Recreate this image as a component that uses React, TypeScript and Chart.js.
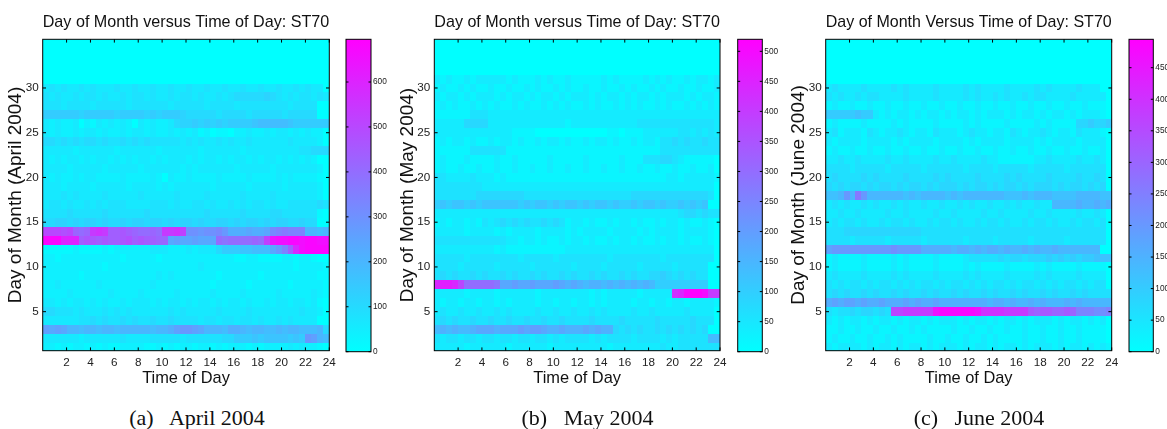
import React, { useEffect, useRef } from "react";
import { Chart, registerables } from "chart.js";

Chart.register(...registerables);

// ---------------- DATA ----------------
// Each row string = one day (day 1 first); 48 half-hour columns covering 0..24 h,
// written in 12 groups of 4. Each character is a base-36 level; value = level * valueUnit.
const valueUnit = 20;
const hoursPerColumn = 0.5;

const hourTicks = [2, 4, 6, 8, 10, 12, 14, 16, 18, 20, 22, 24];
const dayTicks = [5, 10, 15, 20, 25, 30];

const aprilColorTicks = [0, 100, 200, 300, 400, 500, 600];
const mayColorTicks = [0, 50, 100, 150, 200, 250, 300, 350, 400, 450, 500];
const juneColorTicks = [0, 50, 100, 150, 200, 250, 300, 350, 400, 450];

const aprilMax = 695;
const mayMax = 520;
const juneMax = 495;

const aprilRows = [
  "2212 1221 2121 1222 2112 1212 2122 1212 2212 1222 2323 2210",
  "3333 3323 3333 3433 3344 4443 4444 4455 7778 7888 8787 eda9",
  "dcdc aa9a a9aa 9aaa aa9a abde edca aa9b ba9a a99a 9aa9 99a5",
  "3333 3344 5454 4545 4454 4544 4434 4344 3443 4334 3433 3300",
  "5544 4343 3343 4343 3333 3434 3333 3433 3343 3333 3334 3320",
  "3323 2332 3232 2323 3323 2332 3233 2323 3232 2323 3233 2310",
  "2222 3222 2223 2222 3222 2232 2222 3222 2322 2223 2222 2321",
  "2232 2222 2322 2222 2232 2222 2222 1222 2212 2222 2122 2221",
  "2222 2212 2222 2222 2223 2322 2222 2122 2222 1222 2222 2211",
  "2222 2222 2212 2222 2222 2222 2232 2222 2222 2222 2212 2221",
  "2212 2222 2222 2122 2221 2222 2222 2222 1122 1111 2212 2100",
  "1111 1211 1121 2222 2233 3222 3233 3577 7889 99ce hmtx yyyy",
  "yyyu uumn nmnm mnom nmml lcdc cdcc ckjk kkkl kqwx xyyx yyxx",
  "pppo plkl rsrm mnml kklk rrsq ffef fgeb bbcb bcgh ihhh aa9a",
  "5566 5656 6565 5656 6566 5656 6565 5665 6566 5656 6556 5500",
  "4444 5444 4454 4444 4544 4444 4445 4444 4544 4455 4444 4410",
  "3443 4334 3434 4433 3344 4343 3443 4334 3434 4343 3444 4454",
  "3334 3433 3343 3333 4333 3343 3334 3333 3433 3343 3333 3320",
  "3332 3333 2333 3323 3332 3233 3333 2333 3323 3333 2333 3320",
  "3232 2323 3222 2322 2232 0322 3222 2322 2232 2223 2322 2210",
  "3333 2333 3323 3333 2333 3332 3233 3333 2333 3323 3333 3320",
  "3232 3323 2332 3232 3323 2333 2323 3232 3323 2332 3232 3200",
  "3333 3233 3333 2333 3332 3333 3323 3333 3233 3333 3334 4555",
  "5545 4545 5454 4545 4544 4443 4343 3434 3343 3333 3433 3320",
  "3232 2323 3232 2323 3232 2323 2312 0110 2232 2323 3232 3220",
  "3232 2302 1323 2320 3232 2356 6767 6767 7778 9999 9877 7777",
  "7777 7767 7777 6777 7676 7776 5555 5455 5545 5555 4555 5500",
  "4443 4444 3444 4434 4444 4344 4443 4444 3444 4444 4344 4400",
  "4343 3434 4343 3434 4343 3434 4343 3434 5555 5654 3434 4343",
  "3434 3343 4333 4334 3343 3433 4334 3343 3433 4334 3343 4330",
];

const mayRows = [
  "2222 2122 2222 1222 2221 2222 2222 2122 2222 2232 2333 3333",
  "3233 2332 3323 3233 2332 3233 3323 2333 3233 3323 2333 3377",
  "7878 7789 9989 99a9 aa98 8988 8989 8843 4343 3434 3434 3400",
  "3434 3343 3433 4334 3343 3433 3343 3334 3333 3433 3334 3330",
  "2322 3223 2232 3222 2322 3223 2232 3222 2322 3222 2232 2220",
  "2122 1221 2212 1222 2122 1221 2212 1222 2122 1221 2212 2221",
  "2222 2122 2212 2222 2122 2222 2212 1222 2212 2222 lmpq qpkk",
  "mnnm jfff ffe9 9a99 a999 a989 8788 7878 7878 7555 5555 5500",
  "3434 3343 4334 3433 4343 3434 3343 4334 3433 4454 3434 3300",
  "3333 2333 3323 3333 2333 3332 3333 2333 3323 3333 2333 3300",
  "3333 3233 3333 3323 3333 2333 3333 3233 3333 3323 3333 3330",
  "2222 2222 2212 1111 1111 1122 2222 2222 2222 2222 2222 2220",
  "3333 3333 3333 2212 2121 1212 2121 1212 2121 1212 2121 1210",
  "2222 2122 2212 1222 2122 2212 1222 2122 2212 1222 2122 2210",
  "1212 2121 3234 3434 3343 4312 2121 1212 2121 1212 2121 1210",
  "2222 2222 2222 2222 2222 2222 2222 2222 2222 2222 2344 3433",
  "5656 6565 6666 6656 5665 6566 5656 6565 5656 6565 5656 5600",
  "3333 3334 4444 4443 3333 3333 3333 3333 3444 4444 4444 4430",
  "3333 3333 2222 2222 2222 2222 2222 2222 2222 2222 2222 2220",
  "3322 2232 2212 1111 1111 1111 1111 1111 1111 1112 2122 2221",
  "1211 2112 1121 1211 2112 1121 1211 2112 1121 1211 2112 1120",
  "1211 1211 1121 1211 1112 1111 1211 1112 1113 3344 3211 1110",
  "1111 1133 3333 1111 1111 1111 1111 1111 1111 1133 3333 3333",
  "1212 2121 1212 2121 1212 2121 1212 2121 1212 2133 4343 3433",
  "2222 2222 2222 2111 1000 0000 0000 0110 1112 2222 2332 3232",
  "2222 2444 4222 2222 2222 2212 2222 2222 2233 3333 3333 3332",
  "1111 1133 3222 2222 2222 2222 2222 2222 2222 2222 2222 2222",
  "1212 1121 2121 1212 1121 2121 1212 1121 2121 1212 1121 2121",
  "2122 1212 2212 1221 2122 1212 2212 1221 2122 1212 2212 1221",
  "1211 2121 1211 2112 1211 2121 1211 2112 1211 2121 1211 2112",
  "2121 1212 2222 1211 1212 1121 1111 2121 1112 1212 1121 2212",
];

const juneRows = [
  "2122 2212 1221 2122 1212 2212 1221 2122 1212 2212 1221 2121",
  "1211 2112 1121 2111 1211 2112 1121 2111 1211 2112 1121 1110",
  "1121 1211 2112 1121 2111 1211 2112 1121 1211 2112 1121 1110",
  "2121 2212 1221 2122 1212 2212 1221 2122 1212 2212 1221 2120",
  "3233 4344 343i ijjj jjno oooo onkk kkjj jjgf ggff gfcc cbbc",
  "8989 9898 8988 8989 8898 8888 8887 8878 7787 8777 8787 7777",
  "3434 3343 4334 3433 4343 3434 3343 4334 3433 4343 3434 3333",
  "3232 3323 2332 3232 3323 2332 3232 3323 2332 3232 3323 2330",
  "2322 2232 2223 2322 2232 2223 2322 2232 2223 2322 2232 2220",
  "1211 1121 1112 1211 1121 1112 1211 1121 1112 1211 1121 1110",
  "1211 1121 1112 1211 1121 1112 3333 3434 4344 4545 4545 5666",
  "9aaa aaaa aaab aaaa 8888 8788 7878 8787 7878 7787 7777 7700",
  "3333 2333 3323 3333 2333 3332 3333 2333 3323 3333 2333 3330",
  "3334 4444 4444 4444 3333 3333 3333 3333 3333 3333 3333 3330",
  "2323 3232 2323 3232 2323 3232 2323 3232 2323 3232 2323 3230",
  "2232 2322 2232 2322 2232 2322 2232 2322 2232 2322 2232 2320",
  "2323 2232 3223 2322 3223 2232 3223 2232 3223 2277 7787 7878",
  "667a 7da7 7777 7676 7777 6767 7777 7766 6767 7766 6677 7766",
  "4343 4434 3443 4344 3434 4434 3443 4344 3434 4434 3443 4340",
  "3433 3343 4333 3433 3343 4333 3433 3343 4333 3433 3343 3430",
  "3333 2333 3323 3333 2333 3332 3333 2333 3323 3333 2333 3330",
  "2232 2322 2232 2322 2232 2322 2232 2111 1112 2322 2232 2320",
  "1211 2112 1121 1211 2112 1121 1211 2112 1121 1211 2112 1120",
  "2122 2212 2221 2122 2212 2221 2122 2212 2221 2122 2212 2220",
  "2312 2213 2122 3212 2132 2212 3221 2213 2122 3212 2132 2210",
  "1211 1121 1112 1211 1121 1112 1211 1121 1112 1211 1144 5445",
  "5555 5655 2121 2212 1221 2122 1212 2212 1221 2122 1212 2210",
  "1211 2112 1121 1211 2112 1121 1211 2112 1121 1211 2112 1110",
  "3232 2323 3222 2322 2232 2223 2322 3232 2323 3222 2322 2220",
  "2322 2232 2223 2322 2232 2223 2322 2232 2223 2322 2232 2200",
];

const titles = [
  "Day of Month versus Time of Day: ST70",
  "Day of Month versus Time of Day: ST70",
  "Day of Month Versus Time of Day: ST70",
];
const yLabels = ["Day of Month (April 2004)", "Day of Month (May 2004)", "Day of Month (June 2004)"];
const xLabel = "Time of Day";
const captionTags = ["(a)", "(b)", "(c)"];
const captionTexts = ["April 2004", "May 2004", "June 2004"];

// ---------------- LAYOUT / STYLE ----------------
const W_PAGE = 1167;
const H_PAGE = 429;
const PLOT_TOP = 39.3;
const PLOT_BOTTOM = 350.7;
const CB_BOTTOM = 351.7;
const HEAT_H = 392;
const CB_H = 362;
const Y_MIN = 0.64;
const Y_MAX = 35.44;

const SANS = "'Liberation Sans', Arial, Helvetica, sans-serif";
const NARROW = "'Liberation Sans Narrow', 'Arial Narrow', 'Liberation Sans', sans-serif";
const SERIF = "'Liberation Serif', 'Times New Roman', serif";

const TITLE_SIZE = 16.6;
const XLABEL_SIZE = 16.4;
const YLABEL_SIZE = 19;
const TICK_SIZE = 11.7;
const CB_TICK_SIZE = 8.3;

const panelLayouts = [
  { plotLeft: 42.7, plotRight: 329.3, cbLeft: 346, cbRight: 371, captionCenter: 197 },
  { plotLeft: 434.3, plotRight: 720, cbLeft: 737.7, cbRight: 762.3, captionCenter: 587.5 },
  { plotLeft: 825.7, plotRight: 1111.7, cbLeft: 1129, cbRight: 1153.3, captionCenter: 979 },
];

function cool(t: number): string {
  const c = Math.max(0, Math.min(1, t));
  return `rgb(${Math.round(255 * c)},${Math.round(255 * (1 - c))},255)`;
}

function decodeRows(rows: string[]): number[][] {
  return rows.map((r) =>
    r
      .replace(/\s+/g, "")
      .split("")
      .map((ch) => parseInt(ch, 36) * valueUnit)
  );
}

const heatPlugin = {
  id: "heatCells",
  beforeDatasetsDraw(chart: any, _args: any, opts: any) {
    const { ctx, chartArea: a, scales } = chart;
    const xs = scales.x;
    const ys = scales.y;
    const max = opts.max;
    const w = opts.colWidth;
    ctx.save();
    ctx.beginPath();
    ctx.rect(a.left, a.top, a.right - a.left, a.bottom - a.top);
    ctx.clip();
    ctx.fillStyle = cool(0);
    ctx.fillRect(a.left, a.top, a.right - a.left, a.bottom - a.top);
    const data = chart.data.datasets[0].data;
    for (const c of data) {
      const x0 = Math.round(xs.getPixelForValue(c.x - w / 2));
      const x1 = Math.round(xs.getPixelForValue(c.x + w / 2));
      const y0 = Math.round(ys.getPixelForValue(c.y + 0.5));
      const y1 = Math.round(ys.getPixelForValue(c.y - 0.5));
      ctx.fillStyle = cool(c.v / max);
      ctx.fillRect(x0, y0, x1 - x0, y1 - y0);
    }
    ctx.restore();
  },
};

const framePlugin = {
  id: "frameTicks",
  afterDraw(chart: any, _args: any, opts: any) {
    const { ctx, chartArea: a, scales } = chart;
    const len = opts.len || 3;
    ctx.save();
    ctx.strokeStyle = "#000";
    ctx.lineWidth = 1;
    ctx.beginPath();
    (opts.xTicks || []).forEach((v: number) => {
      const px = scales.x.getPixelForValue(v);
      ctx.moveTo(px, a.bottom);
      ctx.lineTo(px, a.bottom - len);
      ctx.moveTo(px, a.top);
      ctx.lineTo(px, a.top + len);
    });
    (opts.yTicks || []).forEach((v: number) => {
      const py = scales.y.getPixelForValue(v);
      ctx.moveTo(a.left, py);
      ctx.lineTo(a.left + len, py);
      ctx.moveTo(a.right, py);
      ctx.lineTo(a.right - len, py);
    });
    ctx.stroke();
    ctx.strokeRect(a.left, a.top, a.right - a.left, a.bottom - a.top);
    ctx.restore();
  },
};

type PanelProps = {
  index: number;
  rows: string[];
  maxValue: number;
  colorTicks: number[];
};

function Panel({ index, rows, maxValue, colorTicks }: PanelProps) {
  const heatRef = useRef<HTMLCanvasElement | null>(null);
  const cbRef = useRef<HTMLCanvasElement | null>(null);
  const L = panelLayouts[index];

  const heatLeft = Math.max(0, Math.round(L.plotLeft) - 43);
  const yAxisW = L.plotLeft - heatLeft;
  const heatW = Math.ceil(L.plotRight - heatLeft + 12);
  const heatPadRight = heatW - (L.plotRight - heatLeft);
  const yTitleLine = YLABEL_SIZE * 1.2;
  const yTitlePad = L.plotLeft - 27 - heatLeft - yTitleLine / 2;

  const cbCanvasLeft = Math.floor(L.cbLeft) - 2;
  const cbPadLeft = L.cbLeft - cbCanvasLeft;
  const cbW = Math.ceil(L.cbRight - cbCanvasLeft + 26);
  const cbAxisW = cbW - (L.cbRight - cbCanvasLeft);

  useEffect(() => {
    const grid = decodeRows(rows);
    const cells: { x: number; y: number; v: number }[] = [];
    grid.forEach((row, di) =>
      row.forEach((v, ci) => cells.push({ x: (ci + 0.5) * hoursPerColumn, y: di + 1, v }))
    );

    const titleLine = TITLE_SIZE * 1.2;
    const heat = new Chart(heatRef.current as HTMLCanvasElement, {
      type: "scatter",
      data: {
        datasets: [
          { data: cells as any, pointRadius: 0, pointHoverRadius: 0, showLine: false },
        ],
      },
      options: {
        responsive: false,
        animation: false,
        events: [],
        layout: { padding: { left: 0, right: heatPadRight, top: 0, bottom: 0 } },
        plugins: {
          legend: { display: false },
          tooltip: { enabled: false },
          title: {
            display: true,
            text: titles[index],
            fullSize: false,
            color: "#111",
            font: { family: SANS, size: TITLE_SIZE, weight: "normal", lineHeight: 1.2 },
            padding: { top: 12, bottom: PLOT_TOP - 12 - titleLine },
          },
          heatCells: { max: maxValue, colWidth: hoursPerColumn },
          frameTicks: { xTicks: hourTicks, yTicks: dayTicks, len: 3.3 },
        } as any,
        scales: {
          x: {
            type: "linear",
            min: 0,
            max: 24,
            afterBuildTicks: (s: any) => {
              s.ticks = hourTicks.map((v) => ({ value: v }));
            },
            afterFit: (s: any) => {
              s.height = HEAT_H - PLOT_BOTTOM;
            },
            grid: { display: false, drawTicks: false },
            border: { display: false },
            ticks: {
              autoSkip: false,
              maxRotation: 0,
              padding: 5,
              color: "#222",
              font: { family: NARROW, size: TICK_SIZE },
            },
            title: {
              display: true,
              text: xLabel,
              color: "#111",
              font: { family: SANS, size: XLABEL_SIZE, lineHeight: 1.2 },
              padding: { top: 0, bottom: HEAT_H - 378 - (XLABEL_SIZE * 1.2) / 2 },
            },
          },
          y: {
            type: "linear",
            min: Y_MIN,
            max: Y_MAX,
            afterBuildTicks: (s: any) => {
              s.ticks = dayTicks.map((v) => ({ value: v }));
            },
            afterFit: (s: any) => {
              s.width = yAxisW;
            },
            grid: { display: false, drawTicks: false },
            border: { display: false },
            ticks: {
              autoSkip: false,
              padding: 4,
              color: "#222",
              font: { family: NARROW, size: TICK_SIZE },
            },
            title: {
              display: true,
              text: yLabels[index],
              color: "#111",
              font: { family: SANS, size: YLABEL_SIZE, lineHeight: 1.2 },
              padding: { top: yTitlePad, bottom: 0 },
            },
          },
        },
      },
      plugins: [heatPlugin, framePlugin],
    });

    const cb = new Chart(cbRef.current as HTMLCanvasElement, {
      type: "bar",
      data: {
        labels: [""],
        datasets: [
          {
            data: [[0, maxValue]] as any,
            borderWidth: 0,
            barPercentage: 1,
            categoryPercentage: 1,
            backgroundColor: (c: any) => {
              const a = c.chart.chartArea;
              if (!a) return cool(0);
              const g = c.chart.ctx.createLinearGradient(0, a.bottom, 0, a.top);
              g.addColorStop(0, cool(0));
              g.addColorStop(0.5, cool(0.5));
              g.addColorStop(1, cool(1));
              return g;
            },
          },
        ],
      },
      options: {
        responsive: false,
        animation: false,
        events: [],
        layout: { padding: { left: cbPadLeft, right: 0, top: PLOT_TOP, bottom: CB_H - CB_BOTTOM } },
        plugins: {
          legend: { display: false },
          tooltip: { enabled: false },
          frameTicks: { xTicks: [], yTicks: colorTicks, len: 2.5 },
        } as any,
        scales: {
          x: { display: false },
          y: {
            position: "right",
            min: 0,
            max: maxValue,
            afterBuildTicks: (s: any) => {
              s.ticks = colorTicks.map((v) => ({ value: v }));
            },
            afterFit: (s: any) => {
              s.width = cbAxisW;
            },
            grid: { display: false, drawTicks: false },
            border: { display: false },
            ticks: {
              autoSkip: false,
              padding: 2,
              color: "#222",
              font: { family: NARROW, size: CB_TICK_SIZE },
            },
          },
        },
      },
      plugins: [framePlugin],
    });

    return () => {
      heat.destroy();
      cb.destroy();
    };
  }, []);

  return (
    <>
      <canvas
        ref={heatRef}
        width={heatW}
        height={HEAT_H}
        style={{ position: "absolute", left: heatLeft, top: 0, width: heatW, height: HEAT_H }}
      />
      <canvas
        ref={cbRef}
        width={cbW}
        height={CB_H}
        style={{ position: "absolute", left: cbCanvasLeft, top: 0, width: cbW, height: CB_H }}
      />
      <div
        style={{
          position: "absolute",
          left: L.captionCenter - 120,
          width: 240,
          top: 406.6,
          textAlign: "center",
          fontFamily: SERIF,
          fontSize: 22,
          lineHeight: "22px",
          whiteSpace: "pre",
          color: "#111",
        }}
      >
        {captionTags[index] + "   " + captionTexts[index]}
      </div>
    </>
  );
}

export default function App() {
  return (
    <div
      style={{
        position: "absolute",
        left: 0,
        top: 0,
        width: W_PAGE,
        height: H_PAGE,
        overflow: "hidden",
        background: "#fff",
      }}
    >
      <Panel index={0} rows={aprilRows} maxValue={aprilMax} colorTicks={aprilColorTicks} />
      <Panel index={1} rows={mayRows} maxValue={mayMax} colorTicks={mayColorTicks} />
      <Panel index={2} rows={juneRows} maxValue={juneMax} colorTicks={juneColorTicks} />
    </div>
  );
}
